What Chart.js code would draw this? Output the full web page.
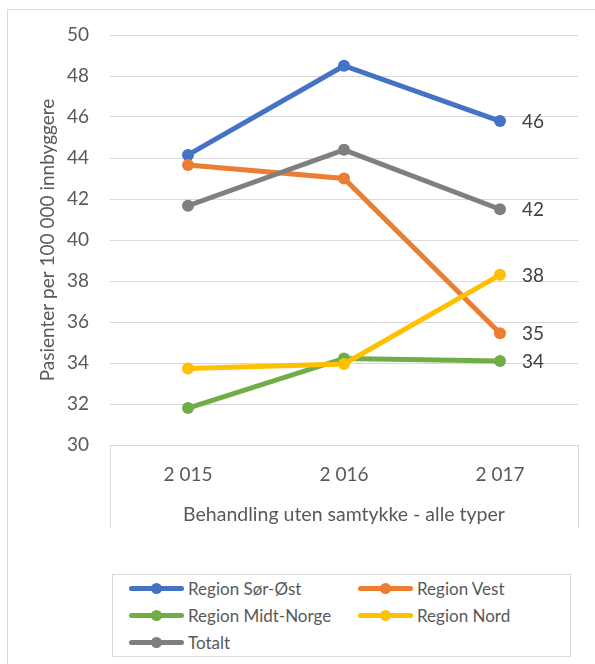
<!DOCTYPE html>
<html>
<head>
<meta charset="utf-8">
<script src="https://cdn.jsdelivr.net/npm/chart.js@4"></script>
<style>
  html, body { margin: 0; padding: 0; background: #fff; }
  body { width: 595px; height: 664px; position: relative; overflow: hidden; font-family: Lato, sans-serif; }
  #frame { position: absolute; left: 7px; top: 9px; width: 620px; height: 680px; border-left: 1px solid #d9d9d9; border-top: 1px solid #d9d9d9; }
  #wrap { position: absolute; left: 0; top: 0; width: 595px; height: 550px; }
  #legend { position: absolute; left: 112px; top: 574px; width: 457px; height: 81px; border: 1px solid #d9d9d9; }
  .item { position: absolute; height: 20px; display: flex; align-items: center; font-size: 17px; color: #595959; white-space: nowrap; }
  .mark { position: relative; width: 55px; height: 5px; border-radius: 3px; margin-right: 4px; }
  .mark span { position: absolute; left: 22px; top: -3px; width: 11px; height: 11px; border-radius: 50%; }
</style>
</head>
<body>
<div id="frame"></div>
<div id="wrap"><canvas id="chart"></canvas></div>
<div id="legend"></div>
<script>
const years = ["2 015", "2 016", "2 017"];
const groupLabel = "Behandling uten samtykke - alle typer";
const seriesNames = ["Region Sør-Øst", "Region Vest", "Region Midt-Norge", "Region Nord", "Totalt"];
const seriesColors = ["#4472C4", "#ED7D31", "#70AD47", "#FFC000", "#7F7F7F"];
const sorOst = [44.15, 48.5, 45.8];
const vest = [43.66, 43.0, 35.45];
const midtNorge = [31.8, 34.22, 34.1];
const nord = [33.73, 33.95, 38.3];
const totalt = [41.67, 44.4, 41.5];
const seriesValues = [sorOst, vest, midtNorge, nord, totalt];

const font = "Lato, sans-serif";

// vertical lines boxing the category axis, like Excel's multi-level axis
const axisBox = {
  id: "axisBox",
  afterDraw(chart) {
    const { ctx, chartArea } = chart;
    ctx.save();
    ctx.strokeStyle = "#d9d9d9";
    ctx.lineWidth = 1;
    ctx.beginPath();
    [chartArea.left, chartArea.right].forEach(x => {
      ctx.moveTo(Math.round(x) + 0.5, chartArea.bottom);
      ctx.lineTo(Math.round(x) + 0.5, 528);
    });
    ctx.stroke();
    ctx.restore();
  }
};

// value label to the right of the last point of each series
const endLabels = {
  id: "endLabels",
  afterDatasetsDraw(chart) {
    const { ctx } = chart;
    ctx.save();
    ctx.font = `19px ${font}`;
    ctx.fillStyle = "#404040";
    ctx.textAlign = "left";
    ctx.textBaseline = "middle";
    chart.data.datasets.forEach((ds, i) => {
      const meta = chart.getDatasetMeta(i);
      const last = meta.data[meta.data.length - 1];
      const value = ds.data[ds.data.length - 1];
      ctx.fillText(Math.round(value).toString(), last.x + 22, last.y + 1);
    });
    ctx.restore();
  }
};

const chart = new Chart(document.getElementById("chart"), {
  type: "line",
  data: {
    labels: years,
    datasets: seriesNames.map((name, i) => ({
      label: name,
      data: seriesValues[i],
      borderColor: seriesColors[i],
      backgroundColor: seriesColors[i],
      borderWidth: 5,
      pointRadius: 6,
      pointBorderWidth: 0,
      tension: 0,
      order: seriesNames.length - i
    }))
  },
  options: {
    responsive: true,
    maintainAspectRatio: false,
    animation: false,
    layout: { padding: { left: 0, right: 17, top: 35, bottom: 0 } },
    plugins: { legend: { display: false }, tooltip: { enabled: false } },
    scales: {
      x: {
        offset: true,
        grid: { display: false },
        border: { display: false },
        ticks: { color: "#595959", font: { family: font, size: 19 }, padding: 10 },
        title: { display: true, text: groupLabel, color: "#595959", font: { family: font, size: 19.5 }, padding: { top: 0, bottom: 24 } },
        afterFit: scale => { scale.height = 105; }
      },
      y: {
        min: 30,
        max: 50,
        grid: { color: "#d9d9d9", lineWidth: 1, drawTicks: false },
        border: { display: false },
        ticks: { stepSize: 2, color: "#595959", font: { family: font, size: 19 }, padding: 21 },
        title: { display: true, text: "Pasienter per 100 000 innbyggere", color: "#595959", font: { family: font, size: 19 }, padding: { top: 36, bottom: 0 } },
        afterFit: scale => { scale.width = 110; }
      }
    }
  },
  plugins: [axisBox, endLabels]
});

// legend laid out in two columns like the original
const legendCols = [16, 245];
const legendRows = [13, 40, 67];
document.getElementById("legend").innerHTML = chart.data.datasets.map((ds, i) => `
  <div class="item" style="left:${legendCols[i % 2]}px; top:${legendRows[Math.floor(i / 2)] - 10}px">
    <div class="mark" style="background:${ds.borderColor}"><span style="background:${ds.borderColor}"></span></div>${ds.label}
  </div>
`).join("");
</script>
</body>
</html>
